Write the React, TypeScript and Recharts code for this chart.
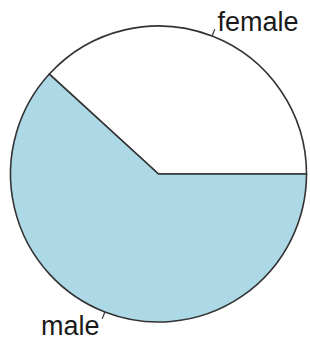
import React from "react";
import { PieChart, Pie, Cell } from "recharts";

const categories = ["female", "male"];
const values = [38.2, 61.8];
const colors = ["#FFFFFF", "#ADD8E6"];

const data = categories.map((name, i) => ({ name, value: values[i] }));

const RAD = Math.PI / 180;

const renderLabel = (props: any) => {
  const { cx, cy, midAngle, outerRadius, index } = props;
  const c = Math.cos(-midAngle * RAD);
  const s = Math.sin(-midAngle * RAD);
  const x1 = cx + outerRadius * c;
  const y1 = cy + outerRadius * s;
  const x2 = cx + outerRadius * 1.05 * c;
  const y2 = cy + outerRadius * 1.05 * s;
  const tx = cx + outerRadius * 1.1 * c;
  const ty = cy + outerRadius * 1.1 * s;
  return (
    <g key={`lbl-${index}`}>
      <line x1={x1} y1={y1} x2={x2} y2={y2} stroke="#333" strokeWidth={1.2} />
      <text
        x={tx}
        y={ty}
        textAnchor={c >= 0 ? "start" : "end"}
        dominantBaseline="central"
        fontFamily="'Liberation Sans', Arial, sans-serif"
        fontSize={27}
        fill="#1a1a1a"
      >
        {categories[index]}
      </text>
    </g>
  );
};

export default function App() {
  return (
    <div style={{ position: "absolute", left: 0, top: 0, width: 310, height: 341, background: "#fff" }}>
      <PieChart width={310} height={341} margin={{ top: 0, right: 0, bottom: 0, left: 0 }}>
        <Pie
          data={data}
          dataKey="value"
          nameKey="name"
          cx={158.5}
          cy={174}
          outerRadius={148}
          innerRadius={0}
          startAngle={0}
          endAngle={360}
          stroke="#333"
          strokeWidth={1.6}
          label={renderLabel}
          labelLine={false}
          isAnimationActive={false}
        >
          {data.map((d, i) => (
            <Cell key={d.name} fill={colors[i]} />
          ))}
        </Pie>
      </PieChart>
    </div>
  );
}
